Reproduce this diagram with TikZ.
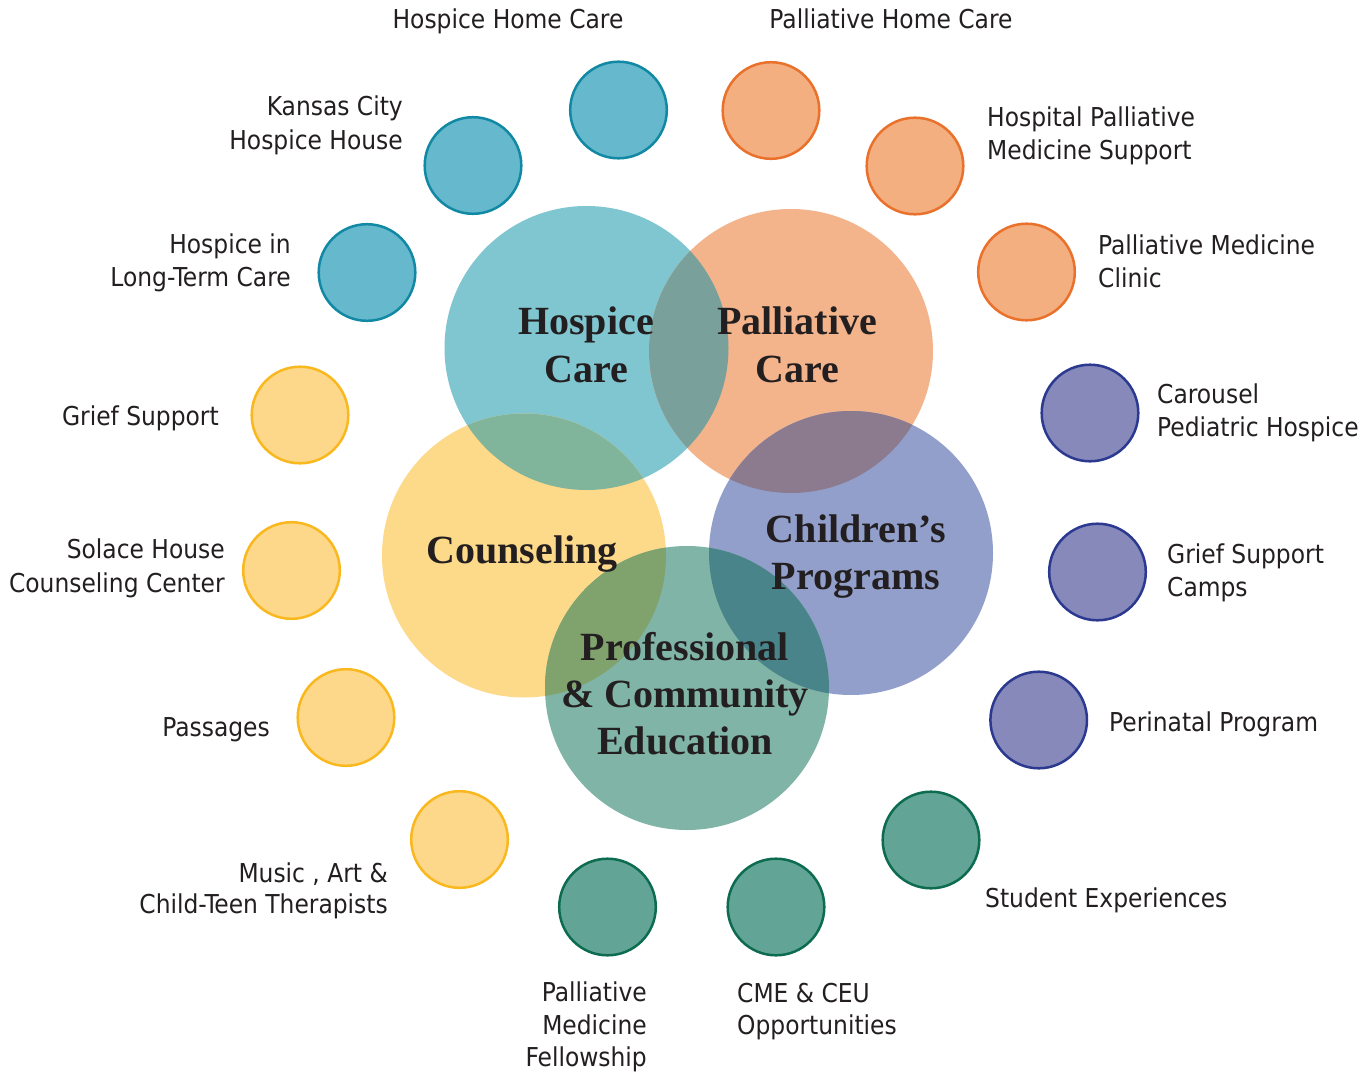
\documentclass[tikz,border=0pt]{standalone}
\usepackage{fontspec}
\newfontfamily\labfont{DejaVu Sans Condensed}
\newfontfamily\titlefont{Liberation Serif}
\definecolor{txt}{HTML}{231F20}
\definecolor{hospC}{HTML}{80C6D0}
\definecolor{pallC}{HTML}{F3B48C}
\definecolor{counC}{HTML}{FDD98A}
\definecolor{chilC}{HTML}{919FCA}
\definecolor{educC}{HTML}{80B4A6}
\definecolor{hpC}{HTML}{7AA09C}
\definecolor{hcC}{HTML}{80B49B}
\definecolor{pchC}{HTML}{8C7B8F}
\definecolor{ceC}{HTML}{80A26D}
\definecolor{cheC}{HTML}{4A848B}
\definecolor{blueF}{HTML}{66B8CC}
\definecolor{blueS}{HTML}{1189A4}
\definecolor{oranF}{HTML}{F3AF80}
\definecolor{oranS}{HTML}{E9712B}
\definecolor{purpF}{HTML}{8689BA}
\definecolor{purpS}{HTML}{2B3990}
\definecolor{tealF}{HTML}{62A597}
\definecolor{tealS}{HTML}{0D6B50}
\definecolor{yellF}{HTML}{FDD88B}
\definecolor{yellS}{HTML}{F9B81D}
\begin{document}
\begin{tikzpicture}[x=1pt,y=-1pt,
  lbl/.style={inner sep=0pt, font=\labfont\fontsize{26}{30}\selectfont, text=txt},
  lblR/.style={lbl, anchor=base east},
  lblL/.style={lbl, anchor=base west},
  lblC/.style={lbl, anchor=base},
  ttl/.style={inner sep=0pt, font=\titlefont\bfseries\fontsize{40}{48}\selectfont, text=txt, anchor=base},
  bigc/.style={circle, minimum size=284pt, inner sep=0pt, draw=none},
  smallc/.style={circle, minimum size=96.6pt, inner sep=0pt, line width=2.5pt},
  blue/.style={smallc, fill=blueF, draw=blueS},
  oran/.style={smallc, fill=oranF, draw=oranS},
  purp/.style={smallc, fill=purpF, draw=purpS},
  teal/.style={smallc, fill=tealF, draw=tealS},
  yell/.style={smallc, fill=yellF, draw=yellS}]
\path[use as bounding box, fill=white] (0,0) rectangle (1361,1073);

% big circles
\node[bigc, fill=hospC] (hc) at (586.5,348) {};
\node[bigc, fill=pallC] (pc) at (791,351) {};
\node[bigc, fill=counC] (cc) at (524,555.5) {};
\node[bigc, fill=chilC] (chc) at (851,553) {};
\node[bigc, fill=educC] (ec) at (687,688) {};

% overlaps
\begin{scope}
  \clip (hc.center) circle[radius=142pt];
  \fill[hpC] (pc.center) circle[radius=142pt];
  \fill[hcC] (cc.center) circle[radius=142pt];
\end{scope}
\begin{scope}
  \clip (pc.center) circle[radius=142pt];
  \fill[pchC] (chc.center) circle[radius=142pt];
\end{scope}
\begin{scope}
  \clip (ec.center) circle[radius=142pt];
  \fill[ceC] (cc.center) circle[radius=142pt];
  \fill[cheC] (chc.center) circle[radius=142pt];
\end{scope}

% titles
\node[ttl] (t1a) at (586,334) {Hospice};
\node[ttl] (t1b) at (586,382) {Care};
\node[ttl] (t2a) at (797,334) {Palliative};
\node[ttl] (t2b) at (797,382) {Care};
\node[ttl] (t3a) at (522,563) {Counseling};
\node[ttl] (t4a) at (856,542) {Children’s};
\node[ttl] (t4b) at (856,589) {Programs};
\node[ttl] (t5a) at (685,660) {Professional};
\node[ttl] (t5b) at (685,707) {\& Community};
\node[ttl] (t5c) at (685,754) {Education};

% small circles
\node[blue] (s1) at (618.5,110) {};
\node[blue] (s2) at (473,165.5) {};
\node[blue] (s3) at (367,272.5) {};
\node[oran] (s4) at (771,110.5) {};
\node[oran] (s5) at (915,166) {};
\node[oran] (s6) at (1026.5,272) {};
\node[purp] (s7) at (1090,413) {};
\node[purp] (s8) at (1097.5,572) {};
\node[purp] (s9) at (1038.7,720) {};
\node[teal] (s10) at (931,840) {};
\node[teal] (s11) at (776,907) {};
\node[teal] (s12) at (607.5,907) {};
\node[yell] (s13) at (459.5,839.5) {};
\node[yell] (s14) at (346,717.5) {};
\node[yell] (s15) at (291.5,570.5) {};
\node[yell] (s16) at (300,415) {};

% labels
\node[lblC] (l1) at (508,29) {Hospice Home Care};
\node[lblR] (l2a) at (403,116) {Kansas City};
\node[lblR] (l2b) at (403,149) {Hospice House};
\node[lblR] (l3a) at (291,253) {Hospice in};
\node[lblR] (l3b) at (291,286) {Long-Term Care};
\node[lblC] (l4) at (891,29) {Palliative Home Care};
\node[lblL] (l5a) at (987,126) {Hospital Palliative};
\node[lblL] (l5b) at (987,159) {Medicine Support};
\node[lblL] (l6a) at (1098,254) {Palliative Medicine};
\node[lblL] (l6b) at (1098,287) {Clinic};
\node[lblL] (l7a) at (1157,403) {Carousel};
\node[lblL] (l7b) at (1157,436) {Pediatric Hospice};
\node[lblL] (l8a) at (1167,563) {Grief Support};
\node[lblL] (l8b) at (1167,596) {Camps};
\node[lblL] (l9) at (1109,731) {Perinatal Program};
\node[lblL] (l10) at (985,907) {Student Experiences};
\node[lblL] (l11a) at (737,1002) {CME \& CEU};
\node[lblL] (l11b) at (737,1034) {Opportunities};
\node[lblR] (l12a) at (647,1001) {Palliative};
\node[lblR] (l12b) at (647,1034) {Medicine};
\node[lblR] (l12c) at (647,1066) {Fellowship};
\node[lblR] (l13a) at (388,882) {Music , Art \&};
\node[lblR] (l13b) at (388,913) {Child-Teen Therapists};
\node[lblR] (l14) at (270,736) {Passages};
\node[lblR] (l15a) at (225,558) {Solace House};
\node[lblR] (l15b) at (225,592) {Counseling Center};
\node[lblR] (l16) at (219,425) {Grief Support};
\end{tikzpicture}
\end{document}
